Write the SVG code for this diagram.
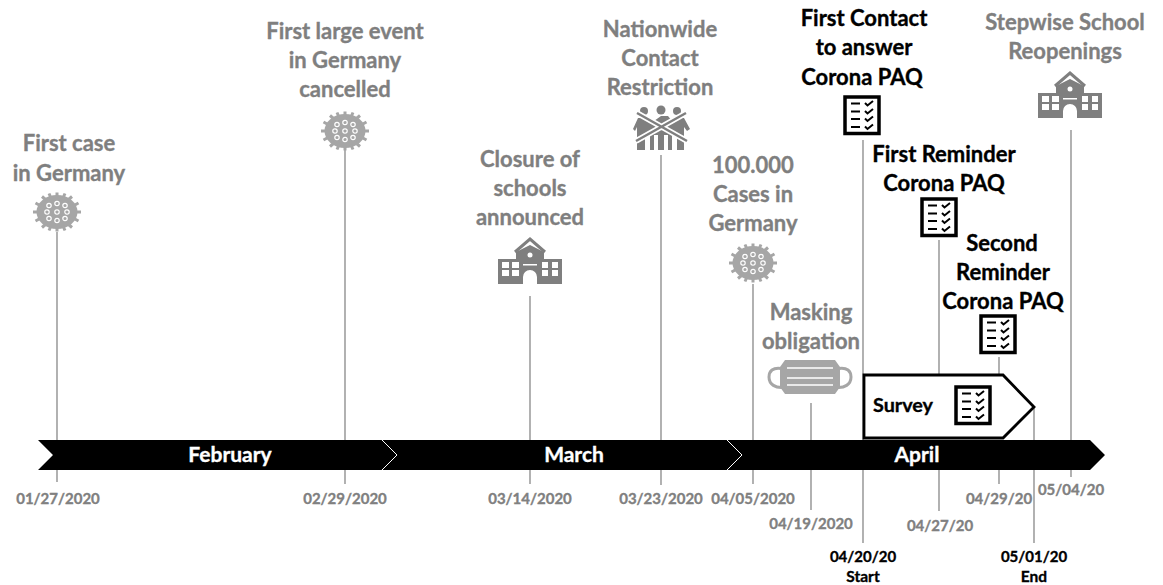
<svg xmlns="http://www.w3.org/2000/svg" width="1163" height="585" viewBox="0 0 1163 585">
<style>
text{font-family:"Lato","Liberation Sans",sans-serif;font-weight:700;text-anchor:middle;stroke-width:.35px}
.g{fill:#7f7f7f;stroke:#7f7f7f;font-size:22px;transform:translateY(.7px)}
.k{fill:#000;stroke:#000;font-size:22px;transform:translateY(.7px)}
.d{fill:#808080;stroke:#808080;font-size:15px}
.e{fill:#000;stroke:#000;font-size:15px}
.e2{fill:#000;stroke:#000;font-size:15.500px}
.m{fill:#fff;stroke:#fff;font-size:21px}
.l{stroke:#7f7f7f;stroke-width:1.200;fill:none}
.v{fill:#a6a6a6}
.vs{stroke:#a6a6a6;stroke-width:3;fill:none}
.vh{fill:none;stroke:#fff;stroke-width:1.200}
.s{fill:#7f7f7f}
.b{fill:#fff;stroke:#000;stroke-width:3.500}
.t{stroke:#000;stroke-width:2;fill:none}
</style>
<defs>
<g id="virus">
<ellipse class="v" cx="0" cy="0" rx="20.500" ry="17"/>
<path class="vs" d="M0 -19.500V-15M8 -18.500L6 -14M15 -15.500L11 -12M21.500 -9L16 -6M24 0H18M21.500 9L16 6M15 15.500L11 12M8 18.500L6 14M0 19.500V15M-8 18.500L-6 14M-15 15.500L-11 12M-21.500 9L-16 6M-24 0H-18M-21.500 -9L-16 -6M-15 -15.500L-11 -12M-8 -18.500L-6 -14"/>
<g class="vh"><circle cx="0" cy="-8.500" r="2.200"/><circle cx="-8" cy="-6.500" r="2.200"/><circle cx="8" cy="-6.500" r="2.200"/><circle cx="-10" cy="0" r="2.200"/><circle cx="0" cy="0" r="2.200"/><circle cx="10" cy="0" r="2.200"/><circle cx="-8" cy="6.500" r="2.200"/><circle cx="0" cy="8.500" r="2.200"/><circle cx="8" cy="6.500" r="2.200"/></g>
</g>
<g id="school">
<path class="s" d="M-32 24V-1H-14V-8L0 -15L14 -8V-1H32V24H7V17A7 7 0 0 0 -7 17V24Z"/>
<path d="M-15 -8L0 -21L15 -8" fill="none" stroke="#7f7f7f" stroke-width="3"/>
<circle cx="0" cy="-5" r="2.500" fill="#fff"/>
<path fill="#fff" d="M-28 2H-21V8H-28ZM-18 2H-11V8H-18ZM12 2H18V8H12ZM22 2H28V8H22ZM-28 10H-21V16H-28ZM-18 10H-11V16H-18ZM12 10H18V16H12ZM22 10H28V16H22ZM-7 4H7V5.500H-7Z"/>
</g>
<g id="list">
<rect class="b" x="-17" y="-18" width="34" height="36.500"/>
<path class="t" d="M-11 -11.500H-2M-11 -3.500H-2M-11 4H-2M-11 12H-2M3 -12L5.500 -9.500L11 -14M3 -4L5.500 -1.500L11 -6M3 3.500L5.500 6L11 1.500M3 11.500L5.500 14L11 9.500"/>
</g>
</defs>

<g id="connectors">
<path class="l" d="M57 232V440M57 470V482M345 150V440M345 470V484M530 296V440M530 470V484M661 155V440M661 470V485M753 284V440M753 470V484M811 403V440M811 470V510M863 140V543M939 240V375M939 470V511M999 357V375M999 470V484M1034 407V543M1071 130V440M1071 470V477"/>
</g>

<g id="timeline">
<path d="M38 440H1090L1105 455L1090 470H38L53 455Z" fill="#000"/>
<path d="M382 440L397 455L382 470M727 440L742 455L727 470" fill="none" stroke="#fff" stroke-width="1"/>
<text class="m" x="230" y="462">February</text>
<text class="m" x="574" y="462">March</text>
<text class="m" x="917" y="462">April</text>
</g>

<g id="n-first-case">
<text class="g" x="69" y="150">First case</text><text class="g" x="69" y="180">in Germany</text>
<use href="#virus" x="57" y="212"/>
<text class="d" x="58" y="504">01/27/2020</text>
</g>
<g id="n-large-event">
<text class="g" x="345" y="38">First large event</text><text class="g" x="345" y="67">in Germany</text><text class="g" x="345" y="96">cancelled</text>
<use href="#virus" x="345" y="131"/>
<text class="d" x="345" y="504">02/29/2020</text>
</g>
<g id="n-closure">
<text class="g" x="530" y="166">Closure of</text><text class="g" x="530" y="195">schools</text><text class="g" x="530" y="224">announced</text>
<use href="#school" x="530" y="260"/>
<text class="d" x="530" y="504">03/14/2020</text>
</g>
<g id="n-contact">
<text class="g" x="660" y="36">Nationwide</text><text class="g" x="660" y="65">Contact</text><text class="g" x="660" y="94">Restriction</text>
<g fill="#7f7f7f">
<circle cx="644" cy="111" r="4"/><circle cx="661" cy="110" r="4.500"/><circle cx="677" cy="111" r="4"/>
<path d="M633 129L638 118H650L654 121L661 116H668L672 121L676 118H684L690 129L687 131L684 127V150H680V135H641V150H637V127L635 131Z"/>
<path d="M640 136H645V150H640ZM650 134H654V150H650ZM658 132H664V150H658ZM668 134H672V150H668ZM677 136H682V150H677Z"/>
</g>
<path d="M637 113L687 141M686 113L636 141" stroke="#fff" stroke-width="6" fill="none"/>
<path d="M637 113L687 141M686 113L636 141" stroke="#7f7f7f" stroke-width="2.500" fill="none"/>
<text class="d" x="661" y="504">03/23/2020</text>
</g>
<g id="n-cases">
<text class="g" x="753" y="172">100.000</text><text class="g" x="753" y="201">Cases in</text><text class="g" x="753" y="230">Germany</text>
<use href="#virus" x="753" y="263"/>
<text class="d" x="753" y="504">04/05/2020</text>
</g>
<g id="n-mask">
<text class="g" x="811" y="319">Masking</text><text class="g" x="811" y="348">obligation</text>
<path d="M784 369C772 366 769 372 769 377C769 384 775 389 786 387M836 369C848 366 851 372 851 377C851 384 845 389 834 387" fill="none" stroke="#a6a6a6" stroke-width="3"/>
<path d="M785 360H835L840 367V387L835 394H785L780 387V367Z" fill="#a6a6a6"/>
<path d="M787 368H833M787 378H833M787 385H833" stroke="#fff" stroke-width="1.500" fill="none"/>
<text class="d" x="811" y="529">04/19/2020</text>
</g>
<g id="n-first-contact">
<text class="k" x="864" y="25">First Contact</text><text class="k" x="864" y="54">to answer</text><text class="k" x="862" y="84">Corona PAQ</text>
<use href="#list" x="862" y="115"/>
<text class="e" x="863" y="562">04/20/20</text><text class="e2" x="863" y="582">Start</text>
</g>
<g id="n-first-reminder">
<text class="k" x="944" y="161">First Reminder</text><text class="k" x="944" y="190">Corona PAQ</text>
<use href="#list" x="939" y="217"/>
<text class="d" x="940" y="531">04/27/20</text>
</g>
<g id="n-second-reminder">
<text class="k" x="1002" y="250">Second</text><text class="k" x="1003" y="279">Reminder</text><text class="k" x="1003" y="308">Corona PAQ</text>
<use href="#list" x="998" y="334"/>
<text class="d" x="999" y="504">04/29/20</text>
</g>
<g id="n-survey">
<path d="M864 375H1003L1034 407L1003 438H864Z" fill="#fff" stroke="#000" stroke-width="2.800"/>
<text x="903" y="412" style="font-size:19.800px;fill:#000;stroke:#000">Survey</text>
<use href="#list" x="973" y="405"/>
<text class="e" x="1034" y="562">05/01/20</text><text class="e2" x="1034" y="582">End</text>
</g>
<g id="n-reopen">
<text class="g" x="1065" y="29">Stepwise School</text><text class="g" x="1065" y="58">Reopenings</text>
<use href="#school" x="1070" y="94"/>
<text class="d" x="1071" y="495">05/04/20</text>
</g>
</svg>
